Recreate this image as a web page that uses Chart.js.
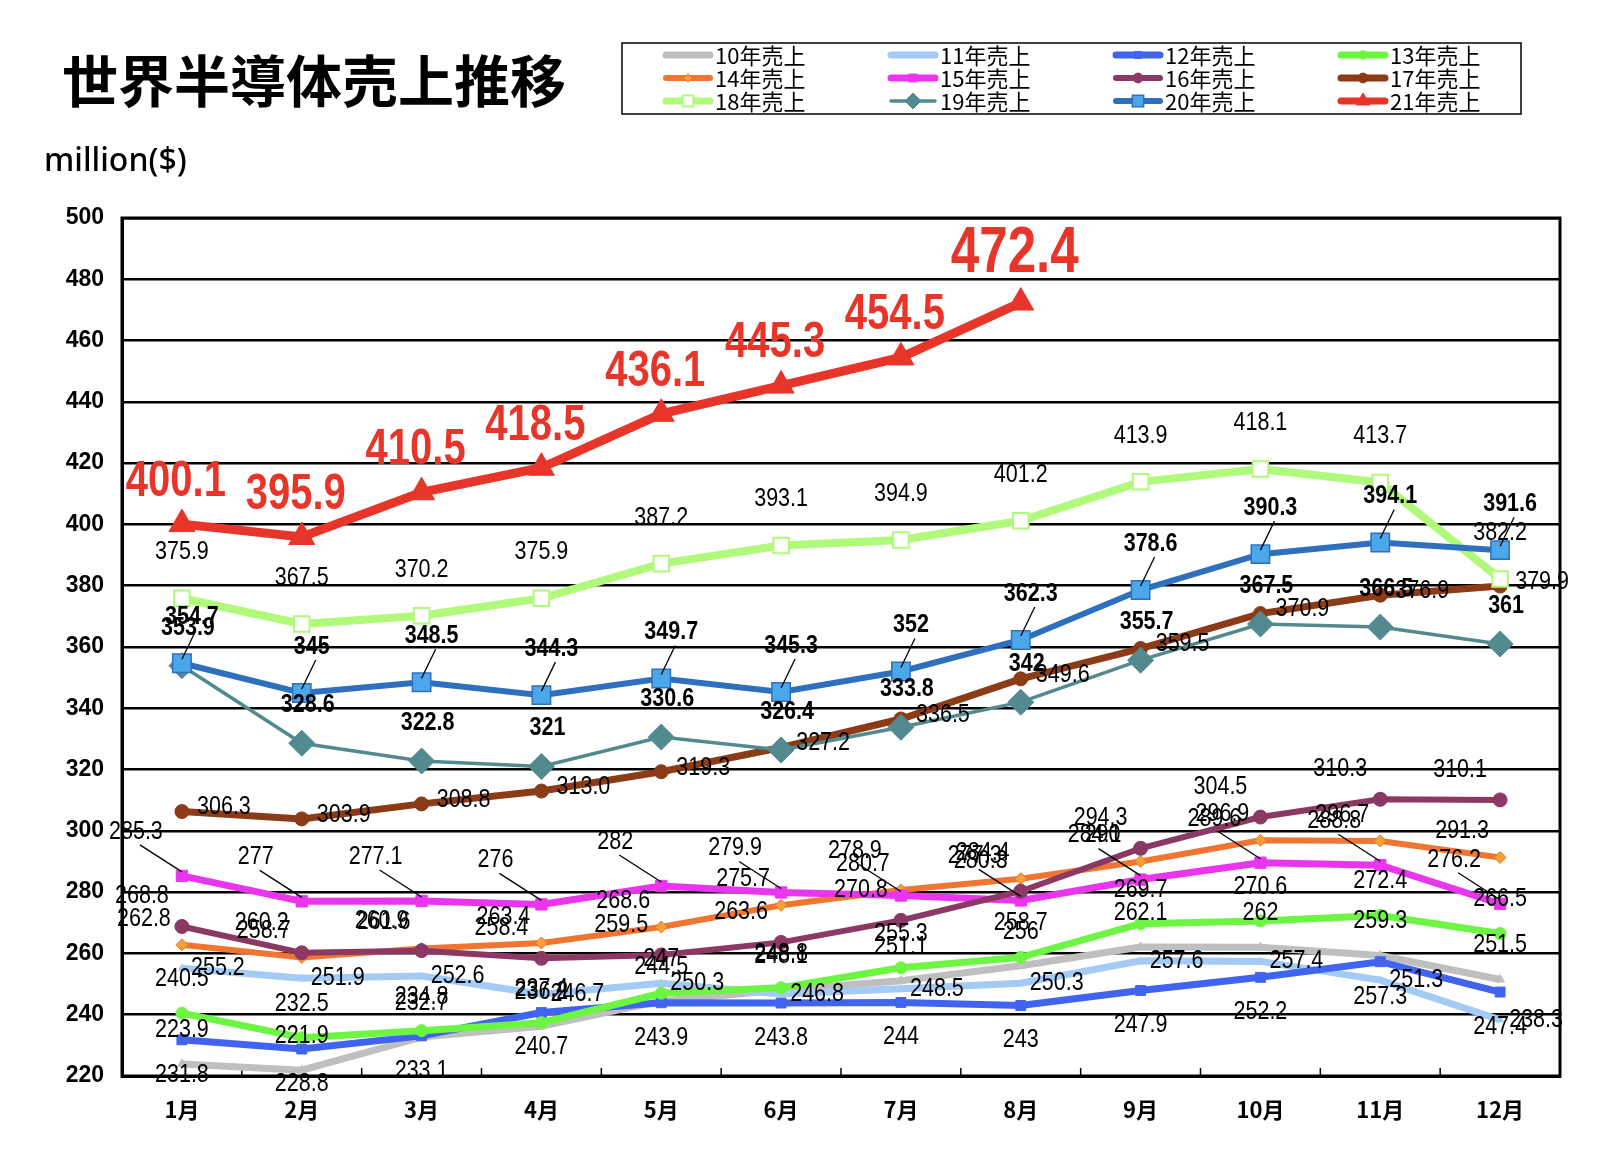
<!DOCTYPE html>
<html>
<head>
<meta charset="utf-8">
<script src="https://cdn.jsdelivr.net/npm/chart.js@4/dist/chart.umd.min.js"></script>
<style>
  body { margin: 0; background: #fff; }
  #wrap { width: 1622px; height: 1152px; }
</style>
</head>
<body>
<div id="wrap"><canvas id="salesChart" width="1622" height="1152"></canvas></div>
<script>
const months = ["1月", "2月", "3月", "4月", "5月", "6月", "7月", "8月", "9月", "10月", "11月", "12月"];
const seriesNames = ["10年売上", "11年売上", "12年売上", "13年売上", "14年売上", "15年売上",
                     "16年売上", "17年売上", "18年売上", "19年売上", "20年売上", "21年売上"];
const yTicks = [220, 500, 20]; // min, max, step

const sales10 = [223.9, 221.9, 232.7, 236.2, 244.5, 248.1, 251.1, 256, 262.1, 262, 259.3, 251.5];
const sales11 = [255.2, 251.9, 252.6, 246.7, 250.3, 246.8, 248.5, 250.3, 257.6, 257.4, 251.3, 238.3];
const sales12 = [231.8, 228.8, 233.1, 240.7, 243.9, 243.8, 244, 243, 247.9, 252.2, 257.3, 247.4];
const sales13 = [240.5, 232.5, 234.8, 237.4, 247, 248.8, 255.3, 258.7, 269.7, 270.6, 272.4, 266.5];
const sales14 = [262.8, 258.7, 261.6, 263.4, 268.6, 275.7, 280.7, 284.4, 290, 296.9, 296.7, 291.3];
const sales15 = [285.3, 277.0, 277.1, 276.0, 282, 279.9, 278.9, 277.3, 284.1, 289.6, 288.8, 276.2];
const sales16 = [268.8, 260.2, 260.9, 258.4, 259.5, 263.6, 270.8, 280.3, 294.3, 304.5, 310.3, 310.1];
const sales17 = [306.3, 303.9, 308.8, 313.0, 319.3, 327.2, 336.5, 349.6, 359.5, 370.9, 376.9, 379.9];
const sales18 = [375.9, 367.5, 370.2, 375.9, 387.2, 393.1, 394.9, 401.2, 413.9, 418.1, 413.7, 382.2];
const sales19 = [353.9, 328.6, 322.8, 321.0, 330.6, 326.4, 333.8, 342, 355.7, 367.5, 366.5, 361];
const sales20 = [354.7, 345, 348.5, 344.3, 349.7, 345.3, 352, 362.3, 378.6, 390.3, 394.1, 391.6];
const sales21 = [400.1, 395.9, 410.5, 418.5, 436.1, 445.3, 454.5, 472.4];

const allSales = [sales10, sales11, sales12, sales13, sales14, sales15,
                  sales16, sales17, sales18, sales19, sales20, sales21];

const SANS = "'Liberation Sans', Arial, sans-serif";
const JP = "'Noto Sans CJK JP', sans-serif";

// look of each series (line, marker, data label)
const styles = [
    { color: "#bfbfbf", width: 7, shape: "triangle", r: 5, dx: 0, dy: -34 },
    { color: "#a4cbf6", width: 7, shape: "triangle", r: 4, dx: 36, dy: 0 },
    { color: "#4064f0", width: 7, shape: "rect", r: 7, dx: 0, dy: 35 },
    { color: "#6cf542", width: 7, shape: "circle", r: 6, dx: 0, dy: -34 },
    { color: "#ef7530", fill: "#f4a13a", width: 6, shape: "rectRot", r: 6, dx: -38, dy: -26 },
    { color: "#e936ee", width: 7, shape: "rect", r: 8, dx: -46, dy: -44, leader: true },
    { color: "#8b3864", width: 6, shape: "circle", r: 7, dx: -40, dy: -30 },
    { color: "#8c3b17", width: 7, shape: "circle", r: 7, dx: 42, dy: -4, fixed: true },
    { color: "#b1f97a", fill: "#ffffff", width: 8, shape: "rect", r: 11, bw: 2, dx: 0, dy: -46 },
    { color: "#528a90", width: 3.5, shape: "rectRot", r: 13, dx: 6, dy: -38, bold: true },
    { color: "#2f70be", fill: "#4aa8ea", width: 6, shape: "rect", r: 13, bw: 1.5, dx: 10, dy: -46, bold: true, leader: true },
    { color: "#e8352a", width: 9, shape: "triangle", r: 15, dx: -6, dy: -42, big: true }
];

function drawMarker(ctx, shape, x, y, r) {
    ctx.beginPath();
    if (shape === "circle") {
        ctx.arc(x, y, r, 0, Math.PI * 2);
    } else if (shape === "rect") {
        const s = r * Math.SQRT1_2;
        ctx.rect(x - s, y - s, 2 * s, 2 * s);
    } else if (shape === "rectRot") {
        ctx.moveTo(x, y - r); ctx.lineTo(x + r, y); ctx.lineTo(x, y + r); ctx.lineTo(x - r, y);
        ctx.closePath();
    } else {
        const h = r * 1.5, w = r * Math.sqrt(3) / 2;
        ctx.moveTo(x, y - r); ctx.lineTo(x + w, y + h - r); ctx.lineTo(x - w, y + h - r);
        ctx.closePath();
    }
    ctx.fill();
    ctx.stroke();
}

// condensed text, like the narrow font of the original
function narrowText(ctx, txt, x, y, sx) {
    ctx.save();
    ctx.translate(x, y);
    ctx.scale(sx, 1);
    ctx.fillText(txt, 0, 0);
    ctx.restore();
}

const decorPlugin = {
    id: "decor",
    beforeDraw(chart) {
        const ctx = chart.ctx;
        ctx.save();
        ctx.fillStyle = "#fff";
        ctx.fillRect(0, 0, chart.width, chart.height);
        ctx.restore();
    },
    beforeDatasetsDraw(chart) {
        const ctx = chart.ctx, a = chart.chartArea, xs = chart.scales.x;
        ctx.save();
        ctx.strokeStyle = "#000";
        ctx.lineWidth = 3;
        ctx.strokeRect(a.left, a.top, a.right - a.left, a.bottom - a.top);
        ctx.lineWidth = 1.5;
        for (let k = 1; k < months.length; k++) {
            const bx = (xs.getPixelForValue(k - 1) + xs.getPixelForValue(k)) / 2;
            ctx.beginPath();
            ctx.moveTo(bx, a.bottom);
            ctx.lineTo(bx, a.bottom - 8);
            ctx.stroke();
        }
        ctx.restore();
    },
    afterDatasetsDraw(chart) {
        const ctx = chart.ctx;
        ctx.save();
        ctx.textAlign = "center";
        ctx.textBaseline = "middle";
        chart.data.datasets.forEach((ds, i) => {
            const st = styles[i];
            const meta = chart.getDatasetMeta(i);
            meta.data.forEach((pt, j) => {
                const v = ds.data[j];
                if (v == null) return;
                const x = pt.x + st.dx, y = pt.y + st.dy;
                if (st.leader) {
                    ctx.strokeStyle = "#000";
                    ctx.lineWidth = 1.3;
                    ctx.beginPath();
                    ctx.moveTo(x + 4, y + 13);
                    ctx.lineTo(pt.x, pt.y - 4);
                    ctx.stroke();
                }
                const txt = st.fixed ? v.toFixed(1) : String(v);
                if (st.big) {
                    const last = j === ds.data.length - 1;
                    ctx.font = "bold " + (last ? 64 : 50) + "px " + SANS;
                    ctx.fillStyle = st.color;
                    narrowText(ctx, txt, x, y + (last ? -6 : 0), 0.8);
                } else {
                    ctx.font = (st.bold ? "bold " : "") + "25px " + SANS;
                    ctx.fillStyle = "#000";
                    narrowText(ctx, txt, x, y, 0.86);
                }
            });
        });
        ctx.restore();
    },
    afterDraw(chart) {
        const ctx = chart.ctx;
        ctx.save();
        // title and unit
        ctx.fillStyle = "#000";
        ctx.textBaseline = "middle";
        ctx.textAlign = "left";
        ctx.font = "bold 56px " + JP;
        ctx.fillText("世界半導体売上推移", 62, 81);
        ctx.font = "500 32px 'Noto Sans', sans-serif";
        ctx.fillText("million($)", 44, 162);

        // legend box
        ctx.strokeStyle = "#000";
        ctx.lineWidth = 1.5;
        ctx.strokeRect(622, 43, 899, 71);
        styles.forEach((st, i) => {
            const col = i % 4, row = Math.floor(i / 4);
            const x0 = 662 + col * 225, y = 55 + row * 23;
            ctx.strokeStyle = st.color;
            ctx.lineCap = "round";
            ctx.lineWidth = Math.min(st.width, 7);
            ctx.beginPath();
            ctx.moveTo(x0 + 4, y);
            ctx.lineTo(x0 + 48, y);
            ctx.stroke();
            ctx.lineCap = "butt";
            ctx.fillStyle = st.fill || st.color;
            ctx.strokeStyle = st.color;
            ctx.lineWidth = st.bw || 1;
            drawMarker(ctx, st.shape, x0 + 26, y, Math.min(st.r * 0.7, 8));
            ctx.fillStyle = "#000";
            ctx.font = "22px " + JP;
            ctx.fillText(seriesNames[i], x0 + 53, y + 1);
        });
        ctx.restore();
    }
};

const ctx = document.getElementById("salesChart");

new Chart(ctx, {
    type: "line",
    data: {
        labels: months,
        datasets: allSales.map((d, i) => ({
            label: seriesNames[i],
            data: d,
            order: allSales.length - i,
            borderColor: styles[i].color,
            borderWidth: styles[i].width,
            backgroundColor: styles[i].fill || styles[i].color,
            pointBackgroundColor: styles[i].fill || styles[i].color,
            pointBorderColor: styles[i].color,
            pointBorderWidth: styles[i].bw || 1,
            pointStyle: styles[i].shape,
            pointRadius: styles[i].r,
            pointHoverRadius: styles[i].r,
            tension: 0,
            fill: false
        }))
    },
    options: {
        responsive: false,
        animation: false,
        layout: { padding: { left: 0, right: 62, top: 218, bottom: 16 } },
        plugins: {
            legend: { display: false },
            tooltip: { enabled: false }
        },
        scales: {
            x: {
                offset: true,
                grid: { display: false, drawTicks: false },
                border: { color: "#000", width: 3 },
                ticks: {
                    color: "#000",
                    padding: 20,
                    font: { family: JP, size: 22, weight: "bold" }
                },
                afterFit: s => { s.height = 60; }
            },
            y: {
                min: yTicks[0],
                max: yTicks[1],
                ticks: {
                    stepSize: yTicks[2],
                    color: "#000",
                    padding: 18,
                    font: { family: SANS, size: 23, weight: "bold" }
                },
                grid: { color: "#000", lineWidth: 2.5, drawTicks: false },
                border: { color: "#000", width: 3 },
                afterFit: s => { s.width = 122; }
            }
        }
    },
    plugins: [decorPlugin]
});
</script>
</body>
</html>
